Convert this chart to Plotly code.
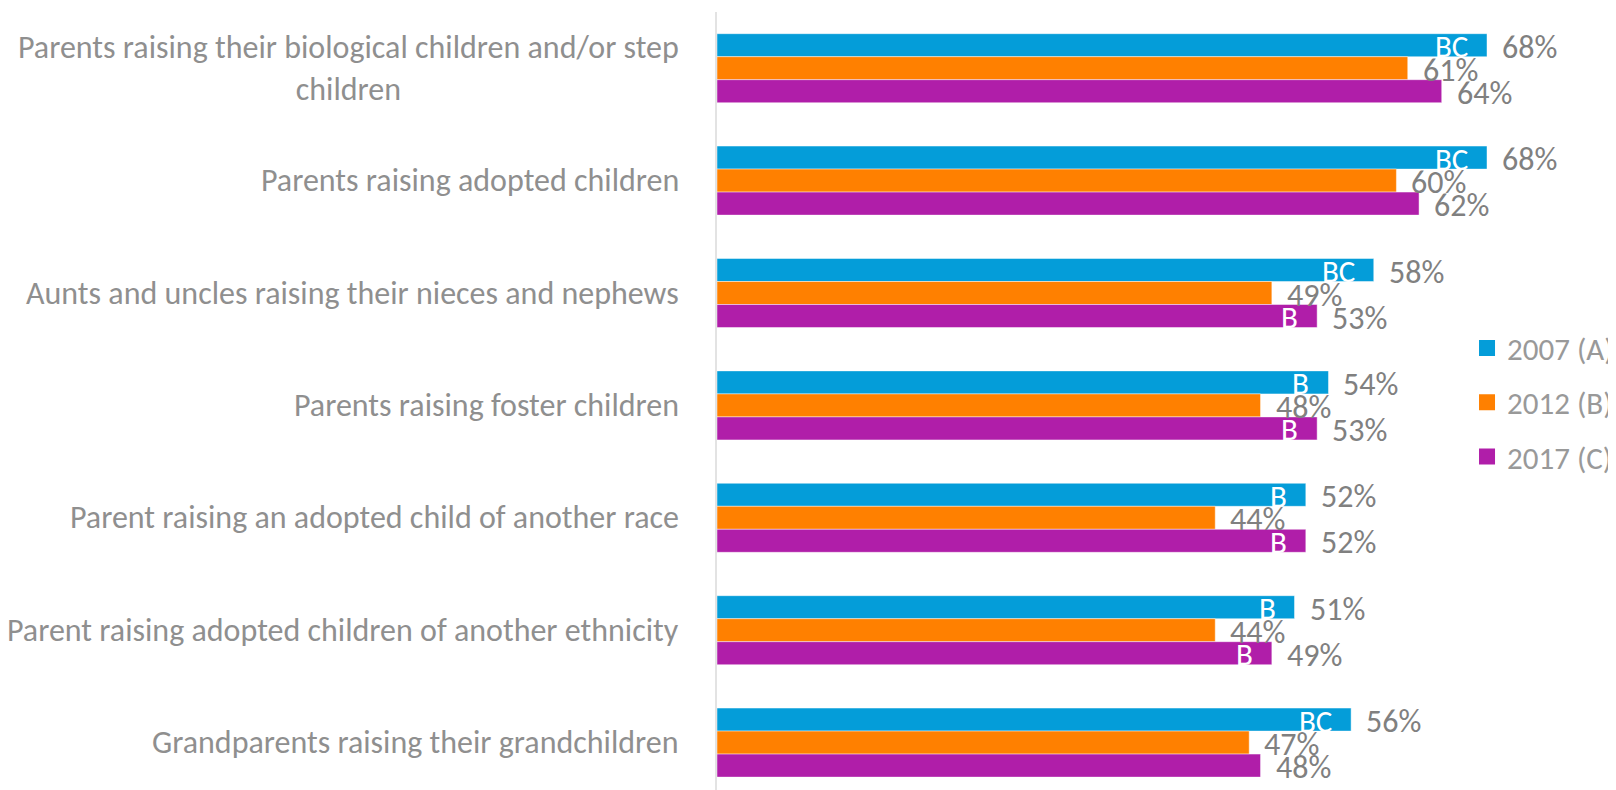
import plotly.graph_objects as go

categories = [
    "Parents raising their biological children and/or step children",
    "Parents raising adopted children",
    "Aunts and uncles raising their nieces and nephews",
    "Parents raising foster children",
    "Parent raising an adopted child of another race",
    "Parent raising adopted children of another ethnicity",
    "Grandparents raising their grandchildren",
]
category_labels = [
    "Parents raising their biological children and/or step<br>children",
    "Parents raising adopted children",
    "Aunts and uncles raising their nieces and nephews",
    "Parents raising foster children",
    "Parent raising an adopted child of another race",
    "Parent raising adopted children of another ethnicity",
    "Grandparents raising their grandchildren",
]
series_names = ["2007 (A)", "2012 (B)", "2017 (C)"]
v2007 = [68, 68, 58, 54, 52, 51, 56]
v2012 = [61, 60, 49, 48, 44, 44, 47]
v2017 = [64, 62, 53, 53, 52, 49, 48]
sig2007 = ["BC", "BC", "BC", "B", "B", "B", "BC"]
sig2012 = ["", "", "", "", "", "", ""]
sig2017 = ["", "", "B", "B", "B", "B", ""]

colors = ["#049dd9", "#ff8000", "#b01ea9"]
FONT = "Carlito, Lato, sans-serif"
LABEL_GREY = "#8f8f8f"
VALUE_GREY = "#808080"

series = [v2007, v2012, v2017]
sigs = [sig2007, sig2012, sig2017]
bargap = 0.386
n = len(series)
w = (1 - bargap) / n

# page has an 8px body margin; figure sized to fit the 1616x790 window
FIG_W, FIG_H = 1608, 782
L, R, T, B = 709, 16, 4, 0
plot_w = FIG_W - L - R
plot_h = FIG_H - T - B
px_per_pct = 770 / 68
pitch = 112.4

fig = go.Figure()
for i, (name, vals) in enumerate(zip(series_names, series)):
    fig.add_trace(go.Bar(
        y=categories, x=vals, orientation="h", name=name,
        marker=dict(color=colors[i], line=dict(width=1, color="rgba(255,255,255,0.45)")),
        showlegend=False, hoverinfo="x+y",
    ))
for i, name in enumerate(series_names):
    fig.add_trace(go.Scatter(
        x=[None], y=[None], mode="markers", name=name,
        marker=dict(symbol="square", size=16, color=colors[i]),
        legendgroup=name, showlegend=True,
    ))

annotations = []
for ci, lab in enumerate(category_labels):
    annotations.append(dict(
        x=0, xref="paper", xanchor="right", xshift=-36,
        y=ci, yref="y", yanchor="middle", yshift=0,
        text=lab, showarrow=False, align="center",
        font=dict(family=FONT, size=32, color=LABEL_GREY),
    ))
for i, vals in enumerate(series):
    for ci, v in enumerate(vals):
        ypos = ci + (i - (n - 1) / 2) * w
        annotations.append(dict(
            x=v, xref="x", xanchor="left", xshift=13,
            y=ypos, yref="y", yanchor="middle", yshift=-2,
            text=f"{v}%", showarrow=False,
            font=dict(family=FONT, size=32, color=VALUE_GREY),
        ))
        if sigs[i][ci]:
            annotations.append(dict(
                x=v, xref="x", xanchor="right", xshift=-17,
                y=ypos, yref="y", yanchor="middle", yshift=-1,
                text=sigs[i][ci], showarrow=False,
                font=dict(family=FONT, size=31, color="white"),
            ))

fig.update_layout(
    width=FIG_W, height=FIG_H,
    margin=dict(l=L, r=R, t=T, b=B, autoexpand=False),
    paper_bgcolor="white", plot_bgcolor="white",
    barmode="group", bargap=bargap, bargroupgap=0,
    font=dict(family=FONT, color=LABEL_GREY),
    xaxis=dict(range=[0, plot_w / px_per_pct], showticklabels=False, showgrid=False,
               zeroline=False, showline=False, ticks=""),
    yaxis=dict(type="category", categoryorder="array", categoryarray=categories,
               range=[plot_h / pitch - 0.5, -0.5], showticklabels=False, showgrid=False,
               zeroline=False, showline=True, linecolor="#e3e3e3", linewidth=2,
               ticks=""),
    legend=dict(x=0.8494, xanchor="left", y=0.6024, yanchor="top",
                font=dict(family=FONT, size=31, color="#999999"),
                tracegroupgap=11, bgcolor="rgba(0,0,0,0)", itemwidth=30),
    annotations=annotations,
)

fig.write_html("out.html")
